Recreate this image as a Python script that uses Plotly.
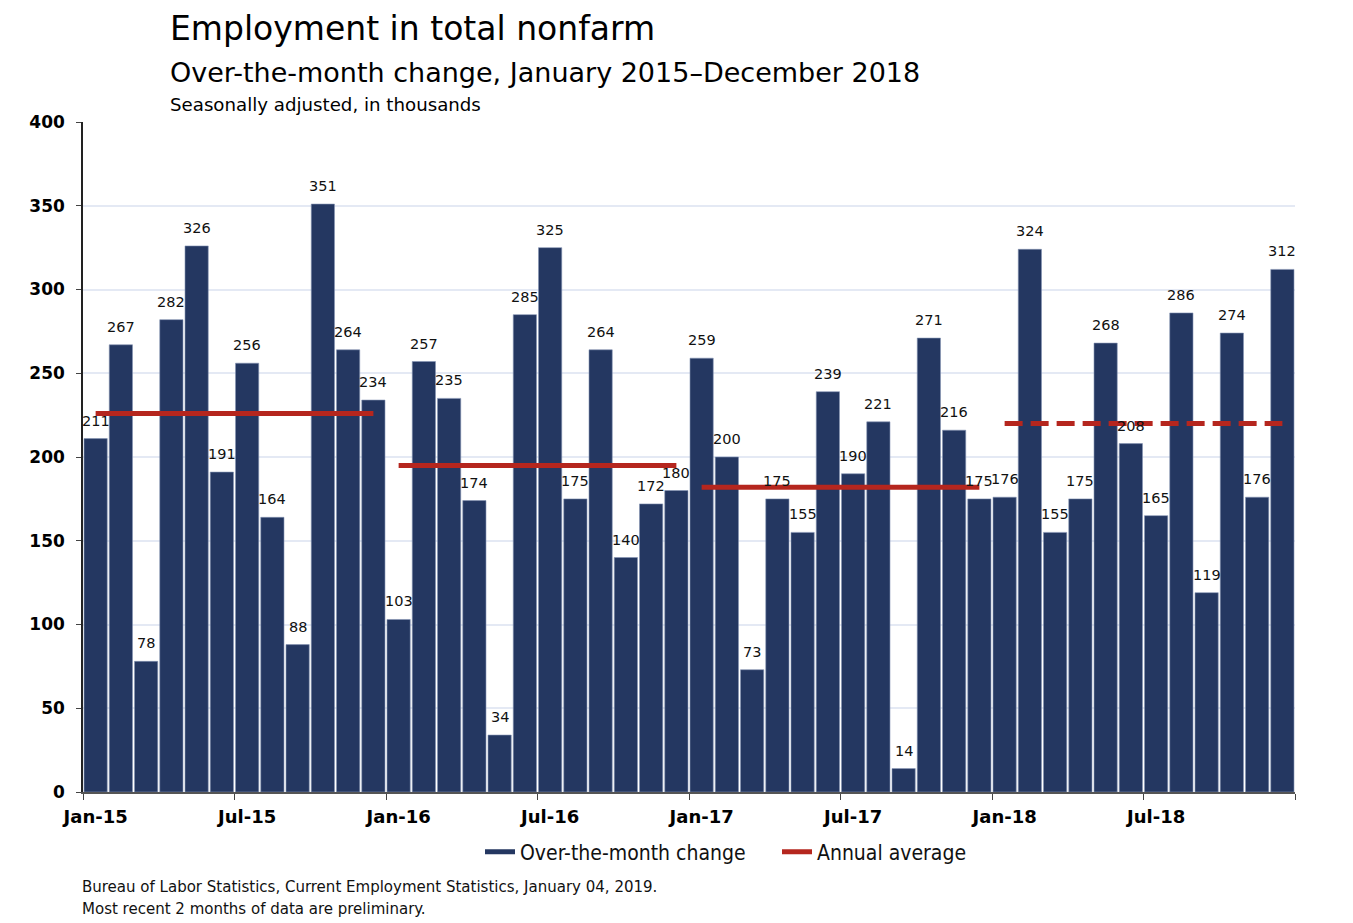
import plotly.graph_objects as go

months = [f"{m}-{y}" for y in ["15", "16", "17", "18"] for m in
          ["Jan", "Feb", "Mar", "Apr", "May", "Jun", "Jul", "Aug", "Sep", "Oct", "Nov", "Dec"]]
changes = [211, 267, 78, 282, 326, 191, 256, 164, 88, 351, 264, 234,
           103, 257, 235, 174, 34, 285, 325, 175, 264, 140, 172, 180,
           259, 200, 73, 175, 155, 239, 190, 221, 14, 271, 216, 175,
           176, 324, 155, 175, 268, 208, 165, 286, 119, 274, 176, 312]
years = ["2015", "2016", "2017", "2018"]
annual_avg = [226, 195, 182, 220]
tick_labels = ["Jan-15", "Jul-15", "Jan-16", "Jul-16", "Jan-17", "Jul-17", "Jan-18", "Jul-18"]

BAR = "#243761"
RED = "#b5261e"
FONT = "DejaVu Sans"
COND = "DejaVu Sans Condensed, DejaVu Sans"

# plot area in page pixels (page has an 8px body margin)
L, T, W, H = 75, 114, 1212, 670

def px(x):
    return (x - 8 - L) / W

def py(y):
    return (T + H - (y - 8)) / H

idx = list(range(len(changes)))
fig = go.Figure()
fig.add_trace(go.Bar(
    x=idx, y=changes, name="Over-the-month change", showlegend=False,
    marker=dict(color=BAR, line=dict(color="#8593b3", width=0.6)),
    hoverinfo="x+y",
))
# legend swatch for the bars (wide rectangle like the original)
fig.add_trace(go.Scatter(
    x=[None], y=[None], mode="lines", name="Over-the-month change",
    line=dict(color=BAR, width=10), showlegend=True,
))
for i, (yr, avg) in enumerate(zip(years, annual_avg)):
    fig.add_trace(go.Scatter(
        x=[idx[12 * i], idx[12 * i + 11]], y=[avg, avg], mode="lines",
        name="Annual average", showlegend=(i == 0),
        line=dict(color=RED, width=5, dash="18px,8px" if yr == "2018" else "solid"),
        hoverinfo="skip",
    ))

value_labels = [
    dict(x=i, y=v, xref="x", yref="y", text=str(v), showarrow=False,
         xanchor="center", yanchor="bottom", yshift=8,
         font=dict(family=FONT, size=14.5, color="#111111"))
    for i, v in zip(idx, changes)
]

fig.update_layout(
    width=1353, height=923,
    margin=dict(l=L, r=1353 - L - W, t=T, b=923 - T - H),
    plot_bgcolor="white", paper_bgcolor="white",
    font=dict(family=FONT, color="#000000"),
    bargap=0.08,
    showlegend=True,
    legend=dict(orientation="h", x=px(480), xanchor="left", y=py(852), yanchor="middle",
                font=dict(family=COND, size=21, color="#111111"),
                entrywidth=252, entrywidthmode="pixels",
                traceorder="normal", itemsizing="constant"),
    xaxis=dict(
        range=[-0.5, len(changes) - 0.5],
        tickvals=[idx[i] for i in range(0, 48, 6)], ticktext=tick_labels,
        ticks="", showline=True, linecolor="#555555", linewidth=1.5,
        tickfont=dict(family=FONT, size=18, color="#000000", weight="bold"),
        ticklabelstandoff=8,
        showgrid=False, zeroline=False,
        minor=dict(tickvals=[i - 0.5 for i in range(0, 49, 6)], ticks="outside",
                   ticklen=6, tickcolor="#444444", showgrid=False),
    ),
    yaxis=dict(
        range=[0, 400], dtick=50, tick0=0,
        ticks="outside", ticklen=5, tickcolor="#444444",
        showline=True, linecolor="#222222", linewidth=1.5,
        gridcolor="#e4e9f4", gridwidth=1.5, zeroline=False,
        ticklabelstandoff=8,
        tickfont=dict(family=FONT, size=17, color="#000000", weight="bold"),
    ),
    annotations=value_labels + [
        dict(text="Employment in total nonfarm", x=px(168), y=py(28),
             xref="paper", yref="paper", xanchor="left", yanchor="middle", showarrow=False,
             font=dict(family=FONT, size=33, color="#000000")),
        dict(text="Over-the-month change, January 2015\u2013December 2018", x=px(168),
             y=py(72), xref="paper", yref="paper", xanchor="left", yanchor="middle",
             showarrow=False, font=dict(family=FONT, size=27, color="#000000")),
        dict(text="Seasonally adjusted, in thousands", x=px(168), y=py(104),
             xref="paper", yref="paper", xanchor="left", yanchor="middle", showarrow=False,
             font=dict(family=FONT, size=18.2, color="#000000")),
        dict(text="Bureau of Labor Statistics, Current Employment Statistics, January 04, 2019.<br>"
                  "Most recent 2 months of data are preliminary.",
             x=px(80), y=py(897), xref="paper", yref="paper",
             xanchor="left", yanchor="middle", align="left", showarrow=False,
             font=dict(family=COND, size=16.7, color="#111111")),
    ],
)

fig.write_html("out.html")
